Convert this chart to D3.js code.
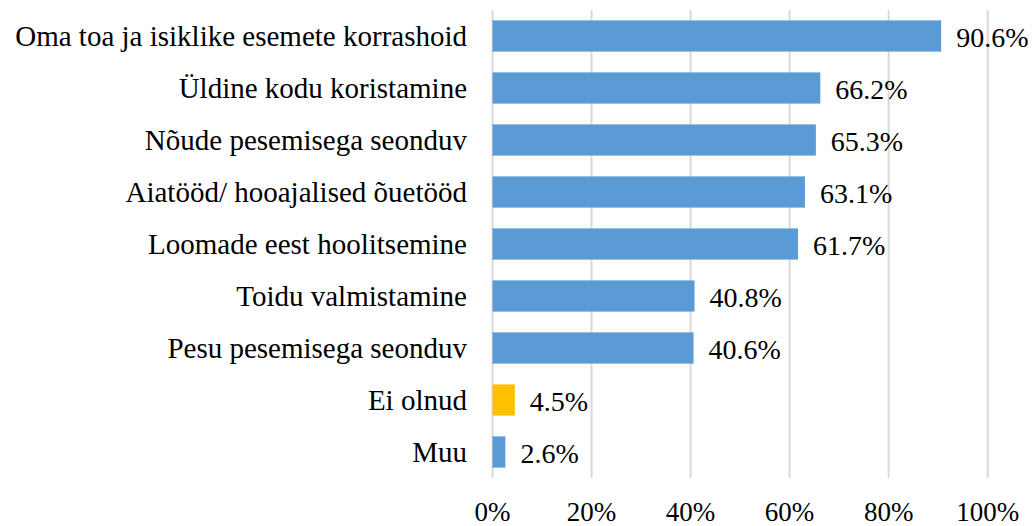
<!DOCTYPE html>
<html>
<head>
<meta charset="utf-8">
<script src="https://cdn.jsdelivr.net/npm/d3@7"></script>
<style>
    body { margin: 0; background: #fff; }
</style>
</head>
<body>
<script>
var categories = [
    "Oma toa ja isiklike esemete korrashoid",
    "Üldine kodu koristamine",
    "Nõude pesemisega seonduv",
    "Aiatööd/ hooajalised õuetööd",
    "Loomade eest hoolitsemine",
    "Toidu valmistamine",
    "Pesu pesemisega seonduv",
    "Ei olnud",
    "Muu"
];
var values = [90.6, 66.2, 65.3, 63.1, 61.7, 40.8, 40.6, 4.5, 2.6];
var highlighted = ["Ei olnud"];
var ticks = [0, 20, 40, 60, 80, 100];

var w = 1035;
var h = 526;
var fontFamily = "Liberation Serif";
// plot area edges
var plotLeft = 492.5, plotRight = 987.7, plotTop = 10, plotBottom = 478;

var svg = d3.select("body")
    .append("svg")
    .attr("width", w)
    .attr("height", h);

var xScale = d3.scaleLinear()
    .domain([0, 100])
    .range([plotLeft, plotRight]);

var yScale = d3.scaleBand()
    .domain(categories)
    .range([plotTop, plotBottom])
    .paddingInner(0.4)
    .paddingOuter(0.2);

// gridlines
svg.selectAll("line.grid")
    .data(ticks)
    .enter()
    .append("line")
    .attr("class", "grid")
    .attr("x1", function (d) { return xScale(d); })
    .attr("x2", function (d) { return xScale(d); })
    .attr("y1", plotTop)
    .attr("y2", plotBottom)
    .attr("stroke", "#d9d9d9")
    .attr("stroke-width", 2);

// bars
svg.selectAll("rect")
    .data(values)
    .enter()
    .append("rect")
    .attr("x", xScale(0))
    .attr("y", function (d, i) { return yScale(categories[i]); })
    .attr("width", function (d) { return xScale(d) - xScale(0); })
    .attr("height", yScale.bandwidth())
    .attr("fill", function (d, i) {
        return highlighted.indexOf(categories[i]) >= 0 ? "#ffc000" : "#5b9bd5";
    });

// value labels
svg.selectAll("text.value")
    .data(values)
    .enter()
    .append("text")
    .attr("class", "value")
    .attr("x", function (d) { return xScale(d) + 15; })
    .attr("y", function (d, i) { return yScale(categories[i]) + yScale.bandwidth() / 2 + 11; })
    .attr("font-family", fontFamily)
    .attr("font-size", 28)
    .attr("fill", "#000")
    .text(function (d) { return d.toFixed(1) + "%"; });

// category labels
svg.selectAll("text.cat")
    .data(categories)
    .enter()
    .append("text")
    .attr("class", "cat")
    .attr("x", plotLeft - 25.5)
    .attr("y", function (d) { return yScale(d) + yScale.bandwidth() / 2 + 9.5; })
    .attr("text-anchor", "end")
    .attr("font-family", fontFamily)
    .attr("font-size", 29)
    .attr("fill", "#000")
    .text(function (d) { return d; });

// x tick labels
svg.selectAll("text.tick")
    .data(ticks)
    .enter()
    .append("text")
    .attr("class", "tick")
    .attr("x", function (d) { return xScale(d); })
    .attr("y", 521)
    .attr("text-anchor", "middle")
    .attr("font-family", fontFamily)
    .attr("font-size", 27)
    .attr("fill", "#000")
    .text(function (d) { return d + "%"; });
</script>
</body>
</html>
